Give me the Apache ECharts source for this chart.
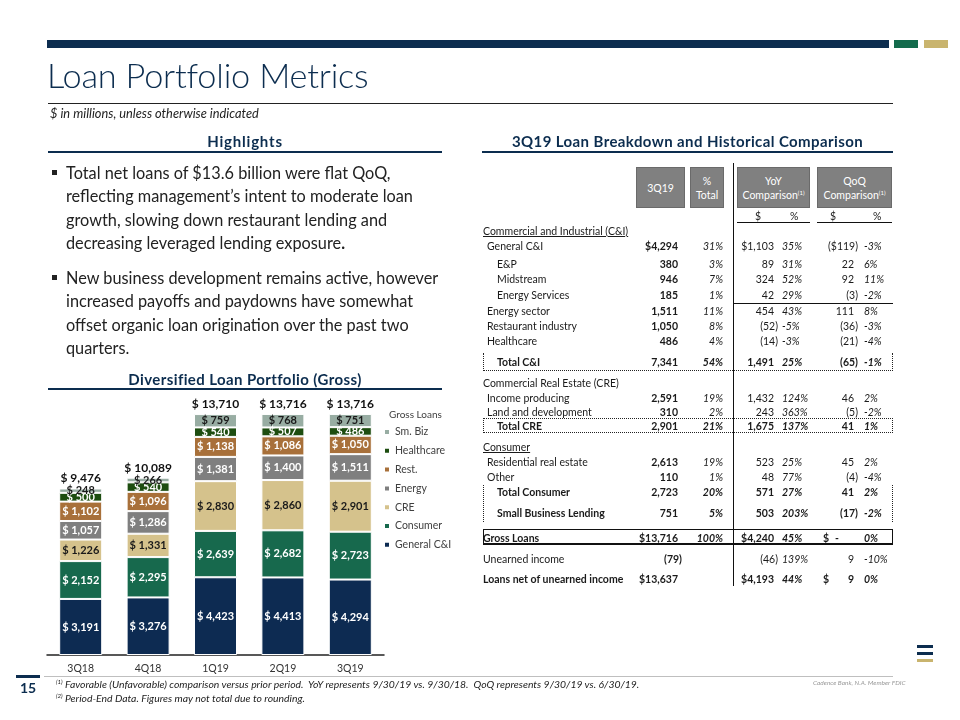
<!DOCTYPE html>
<html>
<head>
<meta charset="utf-8">
<script src="https://cdn.jsdelivr.net/npm/echarts@6/dist/echarts.min.js"></script>
<style>
  html,body{margin:0;padding:0;background:#fff;}
  #page{position:relative;width:960px;height:720px;overflow:hidden;font-family:Lato,'Noto Sans',sans-serif;color:#1a1a1a;}
  #chart{position:absolute;left:0;top:0;width:960px;height:720px;}
  .abs{position:absolute;white-space:nowrap;}
  .t{position:absolute;white-space:nowrap;font-size:10.5px;line-height:12px;color:#1a1a1a;}
  .hdr{position:absolute;background:#808080;color:#fff;font-size:10.5px;line-height:14px;text-align:center;display:flex;flex-direction:column;justify-content:center;box-sizing:border-box;border:1px solid #6a6a6a;white-space:nowrap;}
  sup{font-size:6px;vertical-align:4px;line-height:0;}
</style>
</head>
<body>
<div id="page">
  <div id="chart"></div>
</div>
<script>
// ---------------- chart data ----------------
const categories = ['3Q18','4Q18','1Q19','2Q19','3Q19'];
const generalCI  = [3191, 3276, 4423, 4413, 4294];
const consumer   = [2152, 2295, 2639, 2682, 2723];
const cre        = [1226, 1331, 2830, 2860, 2901];
const energy     = [1057, 1286, 1381, 1400, 1511];
const rest       = [1102, 1096, 1138, 1086, 1050];
const healthcare = [500, 540, 540, 507, 486];
const smBiz      = [248, 266, 759, 768, 751];
const totals     = [9476, 10089, 13710, 13716, 13716];
const legendOrder = ['Sm. Biz','Healthcare','Rest.','Energy','CRE','Consumer','General C&I'];

// ---------------- table data ----------------
const tableHeaders = ['3Q19', '%<br>Total', 'YoY<br>Comparison<sup>(1)</sup>', 'QoQ<br>Comparison<sup>(1)</sup>'];
const tableSections = ['Commercial and Industrial (C&I)', 'Commercial Real Estate (CRE)', 'Consumer'];
const tableLabels = ['General C&I','E&P','Midstream','Energy Services','Energy sector','Restaurant industry','Healthcare','Total C&I',
  'Income producing','Land and development','Total CRE','Residential real estate','Other','Total Consumer','Small Business Lending',
  'Gross Loans','Unearned income','Loans net of unearned income'];
const col3Q19   = ['$4,294','380','946','185','1,511','1,050','486','7,341','2,591','310','2,901','2,613','110','2,723','751','$13,716','(79)','$13,637'];
const colPctTot = ['31%','3%','7%','1%','11%','8%','4%','54%','19%','2%','21%','19%','1%','20%','5%','100%','',''];
const colYoYd   = ['$1,103','89','324','42','454','(52)','(14)','1,491','1,432','243','1,675','523','48','571','503','$4,240','(46)','$4,193'];
const colYoYp   = ['35%','31%','52%','29%','43%','-5%','-3%','25%','124%','363%','137%','25%','77%','27%','203%','45%','139%','44%'];
const colQoQd   = ['($119)','22','92','(3)','111','(36)','(21)','(65)','46','(5)','41','45','(4)','41','(17)','-','9','9'];
const colQoQp   = ['-3%','6%','11%','-2%','8%','-3%','-4%','-1%','2%','-2%','1%','2%','-4%','2%','-2%','0%','-10%','0%'];

const colors = {
  'General C&I':'#0d2b52', 'Consumer':'#17694d', 'CRE':'#d5c28c', 'Energy':'#7f7f7f',
  'Rest.':'#a8703a', 'Healthcare':'#1d4d10', 'Sm. Biz':'#98ada3'
};

// ---------------- static slide (HTML) ----------------
const page = document.getElementById('page');
function add(html, style, cls){ const d=document.createElement('div'); d.className=cls||'abs'; d.innerHTML=html; Object.assign(d.style, style); page.appendChild(d); return d; }
function box(style){ return add('', Object.assign({position:'absolute'}, style), ''); }

// top bar
box({left:'47px',top:'40px',width:'842px',height:'8px',background:'#0c2d4f'});
box({left:'894px',top:'40px',width:'24px',height:'8px',background:'#136b4c'});
box({left:'924px',top:'40px',width:'24px',height:'8px',background:'#c9b46e'});
add('Loan Portfolio Metrics',{left:'47px',top:'53px',fontSize:'34.3px',lineHeight:'44px',color:'#0c2d4f',fontWeight:'300',letterSpacing:'-0.2px'});
box({left:'48px',top:'103px',width:'845px',height:'1px',background:'#222'});
add('$ in millions, unless otherwise indicated',{left:'50px',top:'106px',fontSize:'12.8px',lineHeight:'15px',fontStyle:'italic',color:'#222'});

// headings
const headStyle = {top:'132px',fontSize:'15px',lineHeight:'18px',fontWeight:'700',color:'#0c2d4f',letterSpacing:'0.4px',textAlign:'center'};
add('Highlights',Object.assign({},headStyle,{left:'48px',width:'394px',letterSpacing:'0.8px'}));
box({left:'48px',top:'151px',width:'394px',height:'2px',background:'#0c2d4f'});
add('3Q19 Loan Breakdown and Historical Comparison',Object.assign({},headStyle,{left:'482px',width:'411px'}));
box({left:'482px',top:'151px',width:'411px',height:'2px',background:'#0c2d4f'});
add('Diversified Loan Portfolio (Gross)',Object.assign({},headStyle,{left:'48px',width:'394px',top:'370px'}));
box({left:'48px',top:'388px',width:'394px',height:'2px',background:'#0c2d4f'});

// bullets
const bulletStyle = {left:'66px',fontSize:'16.3px',lineHeight:'23.3px',color:'#222'};
add('Total net loans of $13.6 billion were flat QoQ,<br>reflecting management’s intent to moderate loan<br>growth, slowing down restaurant lending and<br>decreasing leveraged lending exposure<b>.</b>', Object.assign({top:'161px'}, bulletStyle));
add('New business development remains active, however<br>increased payoffs and paydowns have somewhat<br>offset organic loan origination over the past two<br>quarters.', Object.assign({top:'266px'}, bulletStyle));
box({left:'52px',top:'170px',width:'5px',height:'5px',background:'#222'});
box({left:'52px',top:'275px',width:'5px',height:'5px',background:'#222'});

// legend title
add('Gross Loans',{left:'389px',top:'408px',fontSize:'10px',lineHeight:'12px',color:'#404040'});

// footer
box({left:'44px',top:'676px',width:'849px',height:'1px',background:'#bfbfbf'});
box({left:'16px',top:'675px',width:'24px',height:'3px',background:'#0c2d4f'});
add('15',{left:'20px',top:'680px',fontSize:'14px',lineHeight:'16px',fontWeight:'700',color:'#0c2d4f'});
add('<sup>(1)</sup> Favorable (Unfavorable) comparison versus prior period.&nbsp; YoY represents 9/30/19 vs. 9/30/18.&nbsp; QoQ represents 9/30/19 vs. 6/30/19.',{left:'56px',top:'678px',fontSize:'10.4px',lineHeight:'12px',fontStyle:'italic',color:'#222'});
add('<sup>(2)</sup> Period-End Data. Figures may not total due to rounding.',{left:'56px',top:'692px',fontSize:'10.4px',lineHeight:'12px',fontStyle:'italic',color:'#222'});
add('Cadence Bank, N.A. Member FDIC',{left:'813px',top:'679px',fontSize:'6.5px',lineHeight:'8px',fontStyle:'italic',color:'#999'});
box({left:'917px',top:'645px',width:'16px',height:'3px',background:'#0c2d4f'});
box({left:'917px',top:'652px',width:'16px',height:'3px',background:'#0c2d4f'});
box({left:'917px',top:'659px',width:'16px',height:'3px',background:'#c9b46e'});

// ---------------- table ----------------
const hdrBoxes = [[636,685],[690,724],[737,810],[817,892]];
hdrBoxes.forEach((b,i)=>add('<div>'+tableHeaders[i]+'</div>',{left:b[0]+'px',top:'167px',width:(b[1]-b[0])+'px',height:'41px'},'hdr'));
box({left:'733px',top:'163px',width:'1px',height:'423px',background:'#111'});
box({left:'733px',top:'303px',width:'160px',height:'1px',background:'#111'});
[[755,'$'],[790,'%'],[830,'$'],[873,'%']].forEach(s=>add(s[1],{left:s[0]+'px',top:'210px'},'t'));
box({left:'737px',top:'222px',width:'73px',height:'1px',background:'#111'});
box({left:'817px',top:'222px',width:'75px',height:'1px',background:'#111'});

const sectionY = [231, 383, 447];
const sectionUnder = [true,false,true];
tableSections.forEach((s,i)=>add(s,{left:'483px',top:(sectionY[i]-6)+'px',textDecoration:sectionUnder[i]?'underline':'none'},'t'));
const rowY = [246,264,279,295,311,326,341,362,398,412,426,462,477,492,513,538,559,579];
const rowX = [487,497,497,497,487,487,487,497,487,487,497,487,487,497,497,483,483,483];
const boldRow = [0,0,0,0,0,0,0,1,0,0,1,0,0,1,1,1,0,1];
function cellR(txt,right,y,bold,italic){
  if(txt==='') return;
  add(txt,{right:(960-right)+'px',top:(y-6)+'px',fontWeight:bold?'700':'400',fontStyle:italic?'italic':'normal'},'t');
}
function cellL(txt,left,y,bold,italic){
  if(txt==='') return;
  add(txt,{left:left+'px',top:(y-6)+'px',fontWeight:bold?'700':'400',fontStyle:italic?'italic':'normal'},'t');
}
const par = s => s.endsWith(')');
tableLabels.forEach((lab,i)=>{
  const y=rowY[i], b=boldRow[i];
  add(lab,{left:rowX[i]+'px',top:(y-6)+'px',fontWeight:b?'700':'400'},'t');
  cellR(col3Q19[i], par(col3Q19[i])?682:678, y, true, false);
  cellR(colPctTot[i], 723, y, b, true);
  cellR(colYoYd[i], par(colYoYd[i])?778:774, y, b, false);
  cellL(colYoYp[i], 782, y, b, true);
  cellR(colQoQd[i], par(colQoQd[i])?858:(colQoQd[i]==='-'?839:854), y, b, false);
  cellL(colQoQp[i], 864, y, b, true);
});
// "$" signs in gross loans / net loans QoQ column
add('$',{left:'823px',top:(538-6)+'px',fontWeight:'700'},'t');
add('$',{left:'823px',top:(579-6)+'px',fontWeight:'700'},'t');
// dotted boxes
function dotted(x1,y1,x2,y2,top,bottom){
  box({position:'absolute',left:x1+'px',top:y1+'px',width:(x2-x1)+'px',height:(y2-y1)+'px',boxSizing:'border-box',
    borderLeft:'1px dotted #222',borderRight:'1px dotted #222',borderTop:top?'1px dotted #222':'none',borderBottom:bottom?'1px dotted #222':'none'});
}
dotted(483,353,893,371,false,true);
dotted(483,418,893,433,true,true);
dotted(483,485,893,522,false,false);
box({position:'absolute',left:'483px',top:'529px',width:'410px',height:'16px',boxSizing:'border-box',border:'1px solid #111',borderBottom:'2px solid #111'});

// ---------------- ECharts bar chart ----------------
const chart = echarts.init(document.getElementById('chart'), null, {renderer:'canvas'});
const seriesDefs = [
  ['General C&I', generalCI, '#fff'],
  ['Consumer', consumer, '#fff'],
  ['CRE', cre, '#1a1a1a'],
  ['Energy', energy, '#fff'],
  ['Rest.', rest, '#fff'],
  ['Healthcare', healthcare, '#fff'],
  ['Sm. Biz', smBiz, '#1a1a1a']
];
const fmt = v => '$ ' + v.toLocaleString('en-US');
const series = seriesDefs.map(d=>({
  name:d[0], type:'bar', stack:'loans', data:d[1], barWidth:43,
  itemStyle:{color:colors[d[0]], borderColor:'#fff', borderWidth:1},
  label:{show:true, position:'inside', color:d[2], fontSize:11, fontWeight:'bold', fontFamily:'Lato',
    formatter:p=>fmt(p.value)},
  emphasis:{disabled:true}
}));
series.push({
  name:'Total', type:'bar', stack:'loans', barWidth:43, data:totals.map(()=>0),
  itemStyle:{color:'transparent'},
  label:{show:true, position:'top', distance:4, color:'#111', fontSize:12, fontWeight:'bold', fontFamily:'Lato',
    formatter:p=>fmt(totals[p.dataIndex])}
});
chart.setOption({
  animation:false,
  grid:{left:47, right:576, top:391.4, bottom:65, containLabel:false},
  legend:{data:legendOrder, orient:'vertical', left:383, top:426, itemWidth:6, itemHeight:6, itemGap:6.8,
    icon:'rect', padding:0, textStyle:{fontSize:10.5, color:'#404040', fontFamily:'Lato', lineHeight:12}},
  xAxis:{type:'category', data:categories, axisTick:{show:false},
    axisLine:{lineStyle:{color:'#222', width:1.5}},
    axisLabel:{color:'#333', fontSize:10.5, fontFamily:'Lato', margin:8}},
  yAxis:{type:'value', min:0, max:15000, show:false, splitLine:{show:false}},
  series:series
});
</script>
</body>
</html>
